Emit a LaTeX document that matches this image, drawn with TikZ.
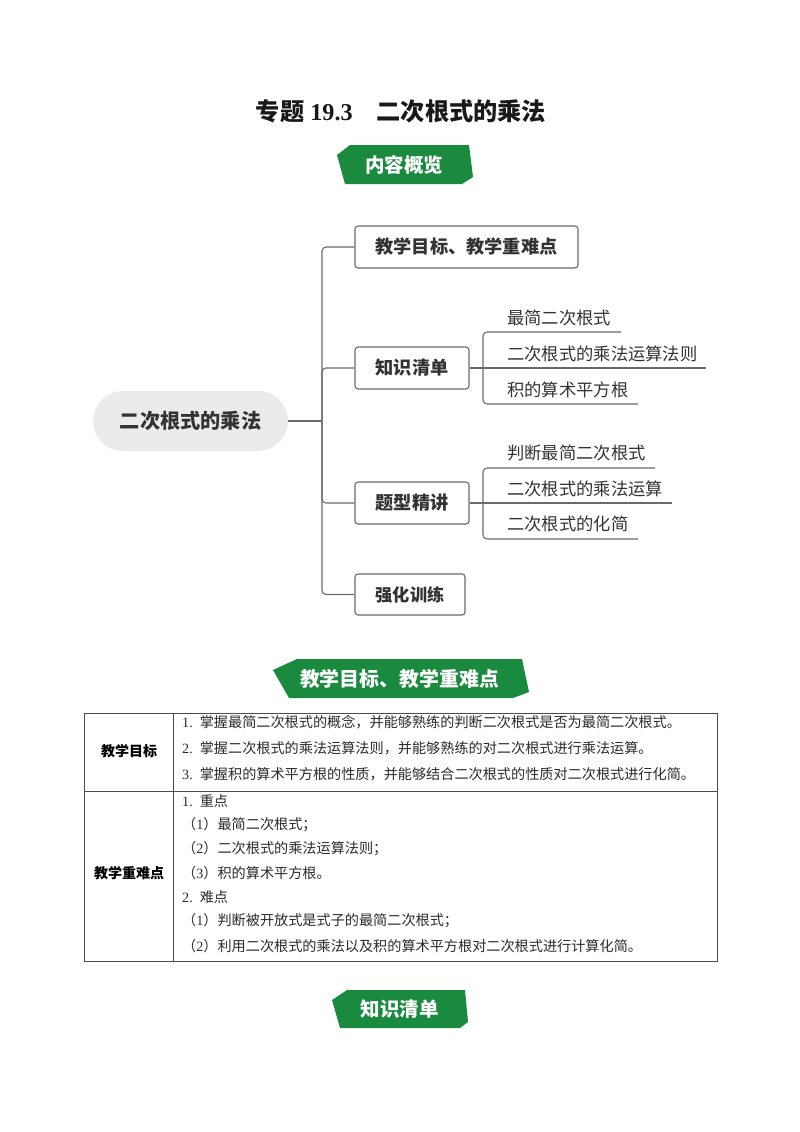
\documentclass[tikz,border=0pt]{standalone}
\usepackage{fontspec}
\setmainfont{Liberation Serif}
\newfontfamily\cjk{Noto Sans CJK SC}
\usetikzlibrary{calc}
\definecolor{bannergreen}{HTML}{1A8A3F}
\definecolor{linegray}{HTML}{6A6A6A}
\definecolor{inkdark}{HTML}{333333}
\definecolor{inktable}{HTML}{2A2A2A}
\newcommand{\fs}[1]{\fontsize{#1}{#1}\selectfont}
\tikzset{
  banner/.style={fill=bannergreen,draw=none},
  bannertext/.style={text=white,font=\cjk\bfseries\fs{19.5},inner sep=0pt},
  root/.style={fill=black!8,draw=none,rounded corners=30,minimum width=195,minimum height=60,text=inkdark,font=\cjk\bfseries\fs{20.2},inner sep=0pt},
  topic/.style={draw=linegray,line width=1.1,rounded corners=3,minimum height=42,text=inkdark,font=\cjk\bfseries\fs{18.2},inner sep=0pt},
  leaf/.style={anchor=west,text=inkdark,font=\cjk\fs{17.3},inner sep=0pt},
  conn/.style={draw=linegray,line width=1.1,rounded corners=4},
  cell/.style={draw=black!70,line width=1,inner sep=0pt},
  head/.style={text=black,font=\cjk\bfseries\fs{14},inner sep=0pt},
  row/.style={anchor=west,text=inktable,font=\cjk\fs{14.15},inner sep=0pt},
}
\begin{document}
\begin{tikzpicture}[x=1pt,y=-1pt]
\useasboundingbox (0,0) rectangle (800,1132);
% title
\node[inner sep=0pt,text=black!90] (title) at (401,111) {\fs{24.2}\bfseries{\cjk 专题} 19.3\hspace{24pt}{\cjk 二次根式的乘法}};
% banners
\fill[banner] (337,155) -- (350,145) -- (469,145) -- (473,177) -- (462,184) -- (345,184) -- cycle;
\node[bannertext] (b1) at (404,165) {内容概览};
\fill[banner] (273,670) -- (297,659) -- (522,659) -- (529,692) -- (513,698) -- (289,698) -- cycle;
\node[bannertext,font=\cjk\bfseries\fs{19.9}] (b2) at (399.500,679) {教学目标、教学重难点};
\fill[banner] (332,1000) -- (347,990) -- (465,990) -- (468,1022) -- (460,1028) -- (340,1028) -- cycle;
\node[bannertext] (b3) at (399.500,1009) {知识清单};
% mind map
\node[root] (r) at (190.500,421) {二次根式的乘法};
\node[topic,minimum width=223] (t1) at (466.500,247) {教学目标、教学重难点};
\node[topic,minimum width=114] (t2) at (412,368) {知识清单};
\node[topic,minimum width=114] (t3) at (412,503) {题型精讲};
\node[topic,minimum width=110,minimum height=41,font=\cjk\bfseries\fs{17.2}] (t4) at (410,594.500) {强化训练};
\coordinate (j) at (322,421);
\draw[conn] (r.east) -- (j);
\draw[conn] (j) |- (t1.west);
\draw[conn] (j) |- (t2.west);
\draw[conn] (j) |- (t3.west);
\draw[conn] (j) |- (t4.west);
% leaves of t2
\node[leaf] (a1) at (507,318) {最简二次根式};
\node[leaf] (a2) at (507,354) {二次根式的乘法运算法则};
\node[leaf] (a3) at (507,390) {积的算术平方根};
\coordinate (a1e) at (621,332);
\coordinate (a2e) at (706,368);
\coordinate (a3e) at (638,404);
\coordinate (ja) at (483,368);
\draw[conn] (t2.east) -- (a2e);
\draw[conn] (ja) |- (a1e);
\draw[conn] (ja) |- (a3e);
% leaves of t3
\node[leaf] (c1) at (507,453) {判断最简二次根式};
\node[leaf] (c2) at (507,489) {二次根式的乘法运算};
\node[leaf] (c3) at (507,524) {二次根式的化简};
\coordinate (c1e) at (655,468);
\coordinate (c2e) at (672,503);
\coordinate (c3e) at (638,539);
\coordinate (jc) at (483,503);
\draw[conn] (t3.east) -- (c2e);
\draw[conn] (jc) |- (c1e);
\draw[conn] (jc) |- (c3e);
% table
\draw[cell] (84,713) rectangle (717,961);
\draw[cell] (84,791) -- (717,791);
\draw[cell] (173.500,713) -- (173.500,961);
\node[head] (h1) at (129,751) {教学目标};
\node[head] (h2) at (129,873) {教学重难点};
\node[row] (p1) at (182,722) {{\rmfamily 1.}\hspace{7pt}掌握最简二次根式的概念，并能够熟练的判断二次根式是否为最简二次根式。};
\node[row] (p2) at (182,748) {{\rmfamily 2.}\hspace{7pt}掌握二次根式的乘法运算法则，并能够熟练的对二次根式进行乘法运算。};
\node[row] (p3) at (182,774) {{\rmfamily 3.}\hspace{7pt}掌握积的算术平方根的性质，并能够结合二次根式的性质对二次根式进行化简。};
\node[row] (q1) at (182,801) {{\rmfamily 1.}\hspace{7pt}重点};
\node[row] (q2) at (182,825) {（{\rmfamily 1}）最简二次根式；};
\node[row] (q3) at (182,849) {（{\rmfamily 2}）二次根式的乘法运算法则；};
\node[row] (q4) at (182,873) {（{\rmfamily 3}）积的算术平方根。};
\node[row] (q5) at (182,897) {{\rmfamily 2.}\hspace{7pt}难点};
\node[row] (q6) at (182,921) {（{\rmfamily 1}）判断被开放式是式子的最简二次根式；};
\node[row] (q7) at (182,946) {（{\rmfamily 2}）利用二次根式的乘法以及积的算术平方根对二次根式进行计算化简。};
\end{tikzpicture}
\end{document}
